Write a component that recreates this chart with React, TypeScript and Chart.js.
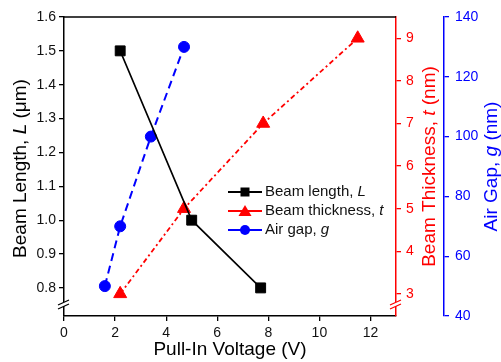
import { useEffect, useRef } from "react";
import { Chart, registerables } from "chart.js";

Chart.register(...registerables);

// ---- data ----
const lengthVoltage = [2.2, 5.0, 7.7];
const lengthValues = [1.5, 1.0, 0.8];
const thickVoltage = [2.2, 4.7, 7.8, 11.5];
const thickValues = [3, 5, 7, 9];
const gapVoltage = [1.6, 2.2, 3.4, 4.7];
const gapValues = [50, 70, 100, 130];

const xTicks = [0, 2, 4, 6, 8, 10, 12];
const lengthTicks = [0.8, 0.9, 1.0, 1.1, 1.2, 1.3, 1.4, 1.5, 1.6];
const thickTicks = [3, 4, 5, 6, 7, 8, 9];
const gapTicks = [40, 60, 80, 100, 120, 140];

const FONT = '"Liberation Sans", Arial, sans-serif';
const RED = "#ff0000";
const BLUE = "#0000ff";
const BLACK = "#000000";

type Part = [string, boolean];

function drawMixed(
  ctx: CanvasRenderingContext2D,
  parts: Part[],
  x: number,
  y: number,
  size: number,
  color: string,
  align: "center" | "left",
  rotate = false
) {
  ctx.save();
  ctx.fillStyle = color;
  ctx.textBaseline = "middle";
  ctx.textAlign = "left";
  const fonts = parts.map(([, it]) => `${it ? "italic " : ""}${size}px ${FONT}`);
  const widths = parts.map(([t], i) => {
    ctx.font = fonts[i];
    return ctx.measureText(t).width;
  });
  const total = widths.reduce((a, b) => a + b, 0);
  ctx.translate(x, y);
  if (rotate) ctx.rotate(-Math.PI / 2);
  let cx = align === "center" ? -total / 2 : 0;
  parts.forEach(([t], i) => {
    ctx.font = fonts[i];
    ctx.fillText(t, cx, 0);
    cx += widths[i];
  });
  ctx.restore();
}

function drawMarker(ctx: CanvasRenderingContext2D, kind: string, x: number, y: number, color: string) {
  ctx.save();
  ctx.fillStyle = color;
  ctx.setLineDash([]);
  ctx.beginPath();
  if (kind === "rect") {
    ctx.rect(x - 4.5, y - 4.5, 9, 9);
  } else if (kind === "triangle") {
    ctx.moveTo(x, y - 6);
    ctx.lineTo(x + 6.5, y + 5);
    ctx.lineTo(x - 6.5, y + 5);
    ctx.closePath();
  } else {
    ctx.arc(x, y, 5, 0, Math.PI * 2);
  }
  ctx.fill();
  ctx.restore();
}

function drawBreak(ctx: CanvasRenderingContext2D, x: number, y: number, color: string) {
  ctx.save();
  ctx.fillStyle = "#ffffff";
  ctx.fillRect(x - 2, y - 2, 4, 4);
  ctx.strokeStyle = color;
  ctx.lineWidth = 1.3;
  ctx.setLineDash([]);
  ctx.beginPath();
  ctx.moveTo(x - 6, y + 1);
  ctx.lineTo(x + 5, y - 4);
  ctx.moveTo(x - 6, y + 5);
  ctx.lineTo(x + 5, y);
  ctx.stroke();
  ctx.restore();
}

const decorPlugin = {
  id: "decor",
  afterDraw(chart: any) {
    const ctx: CanvasRenderingContext2D = chart.ctx;
    const a = chart.chartArea;
    // top frame
    ctx.save();
    ctx.strokeStyle = BLACK;
    ctx.lineWidth = 1.5;
    ctx.beginPath();
    ctx.moveTo(a.left, a.top);
    ctx.lineTo(a.right, a.top);
    ctx.stroke();
    ctx.restore();
    // axis breaks
    drawBreak(ctx, a.left, a.bottom - 12, BLACK);
    drawBreak(ctx, a.right, a.bottom - 12, RED);
    // titles
    const cy = (a.top + a.bottom) / 2;
    drawMixed(ctx, [["Beam Length, ", false], ["L", true], [" (μm)", false]], 21, cy + 2, 19, BLACK, "center", true);
    drawMixed(ctx, [["Beam Thickness, ", false], ["t", true], [" (nm)", false]], 430, cy, 19, RED, "center", true);
    drawMixed(ctx, [["Air Gap, ", false], ["g", true], [" (nm)", false]], 492, cy, 19, BLUE, "center", true);
    drawMixed(ctx, [["Pull-In Voltage (V)", false]], (a.left + a.right) / 2, 350, 19, BLACK, "center");
    // legend
    const rows: { parts: Part[]; color: string; marker: string; y: number }[] = [
      { parts: [["Beam length, ", false], ["L", true]], color: BLACK, marker: "rect", y: 192 },
      { parts: [["Beam thickness, ", false], ["t", true]], color: RED, marker: "triangle", y: 211 },
      { parts: [["Air gap, ", false], ["g", true]], color: BLUE, marker: "circle", y: 230 },
    ];
    rows.forEach((r) => {
      ctx.save();
      ctx.strokeStyle = r.color;
      ctx.lineWidth = 1.8;
      ctx.setLineDash([]);
      ctx.beginPath();
      ctx.moveTo(228, r.y);
      ctx.lineTo(262, r.y);
      ctx.stroke();
      ctx.restore();
      drawMarker(ctx, r.marker, 245, r.y, r.color);
      drawMixed(ctx, r.parts, 265, r.y, 15, "#111111", "left");
    });
  },
};

function toPoints(xs: number[], ys: number[]) {
  return xs.map((x, i) => ({ x, y: ys[i] }));
}

export default function App() {
  const ref = useRef<HTMLCanvasElement | null>(null);

  useEffect(() => {
    document.body.style.margin = "0";
    const canvas = ref.current;
    if (!canvas) return;
    const tickFont = { family: FONT, size: 14 };
    const chart = new Chart(canvas, {
      type: "line",
      data: {
        datasets: [
          {
            label: "Beam length, L",
            data: toPoints(lengthVoltage, lengthValues),
            yAxisID: "yL",
            borderColor: BLACK,
            backgroundColor: BLACK,
            borderWidth: 1.6,
            pointStyle: "rect",
            pointRadius: 7,
            pointBorderWidth: 1,
          },
          {
            label: "Beam thickness, t",
            data: toPoints(thickVoltage, thickValues),
            yAxisID: "yT",
            borderColor: RED,
            backgroundColor: RED,
            borderWidth: 1.8,
            borderDash: [5, 3, 2, 3],
            pointStyle: "triangle",
            pointRadius: 7.5,
            pointBorderWidth: 1,
          },
          {
            label: "Air gap, g",
            data: toPoints(gapVoltage, gapValues),
            yAxisID: "yG",
            borderColor: BLUE,
            backgroundColor: BLUE,
            borderWidth: 2,
            borderDash: [8, 5],
            pointStyle: "circle",
            pointRadius: 5.5,
            pointBorderWidth: 1,
          },
        ],
      },
      options: {
        responsive: false,
        animation: false,
        devicePixelRatio: 1,
        layout: { padding: { top: 17, left: 0, right: 0, bottom: 0 } },
        plugins: { legend: { display: false }, tooltip: { enabled: false } },
        scales: {
          x: {
            type: "linear",
            position: "bottom",
            min: 0,
            max: 13,
            afterBuildTicks: (s: any) => {
              s.ticks = xTicks.map((v) => ({ value: v }));
            },
            afterFit: (s: any) => {
              s.height = 46;
            },
            grid: { drawOnChartArea: false, color: BLACK, tickLength: 5, lineWidth: 1.3 },
            border: { display: true, color: BLACK, width: 1.5 },
            ticks: { font: tickFont, color: "#111111", padding: 4, maxRotation: 0 },
          },
          yL: {
            type: "linear",
            position: "left",
            min: 0.717,
            max: 1.6,
            afterBuildTicks: (s: any) => {
              s.ticks = lengthTicks.map((v) => ({ value: v }));
            },
            afterFit: (s: any) => {
              s.width = 64;
            },
            grid: { drawOnChartArea: false, color: BLACK, tickLength: 5, lineWidth: 1.3 },
            border: { display: true, color: BLACK, width: 1.5 },
            ticks: { font: tickFont, color: "#111111", padding: 3, callback: (v: any) => Number(v).toFixed(1) },
          },
          yT: {
            type: "linear",
            position: "right",
            weight: 0,
            min: 2.48,
            max: 9.5,
            afterBuildTicks: (s: any) => {
              s.ticks = thickTicks.map((v) => ({ value: v }));
            },
            afterFit: (s: any) => {
              s.width = 48;
            },
            grid: { drawOnChartArea: false, color: RED, tickLength: 5, lineWidth: 1.3 },
            border: { display: true, color: RED, width: 1.5 },
            ticks: { font: tickFont, color: RED, padding: 5 },
          },
          yG: {
            type: "linear",
            position: "right",
            weight: 1,
            min: 40,
            max: 140,
            afterBuildTicks: (s: any) => {
              s.ticks = gapTicks.map((v) => ({ value: v }));
            },
            afterFit: (s: any) => {
              s.width = 57;
            },
            grid: { drawOnChartArea: false, color: BLUE, tickLength: 5, lineWidth: 1.3 },
            border: { display: true, color: BLUE, width: 1.5 },
            ticks: { font: tickFont, color: BLUE, padding: 6 },
          },
        },
      } as any,
      plugins: [decorPlugin],
    });
    return () => chart.destroy();
  }, []);

  return (
    <div style={{ width: 501, height: 362 }}>
      <canvas ref={ref} width={501} height={362} style={{ display: "block" }} />
    </div>
  );
}
